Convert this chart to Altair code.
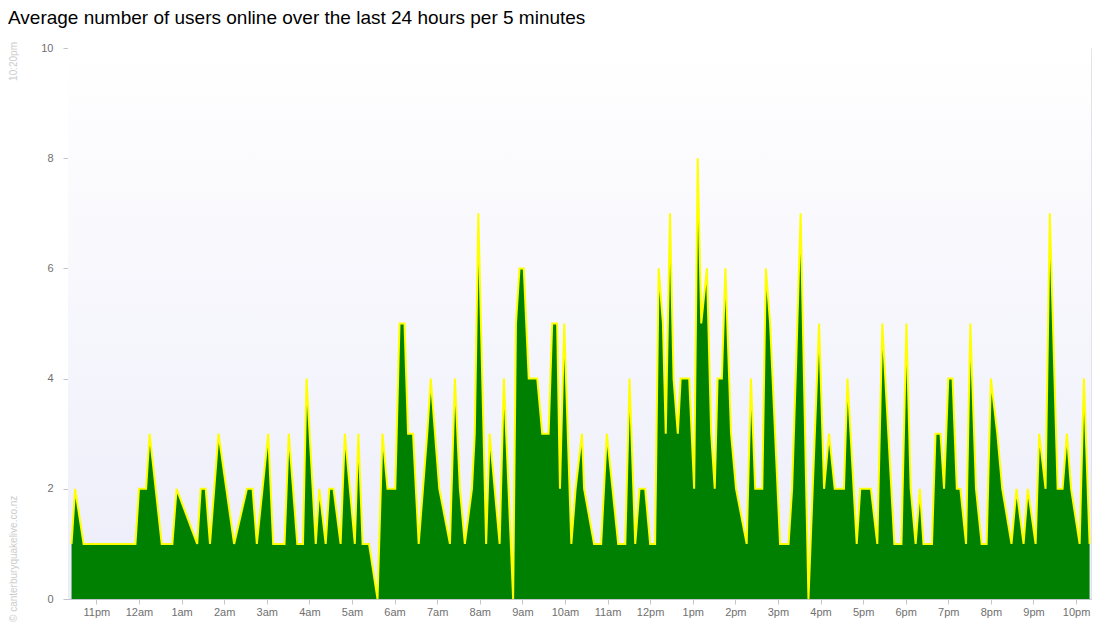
import altair as alt
import pandas as pd

# minutes after 10pm of the previous day (10:20pm = 20 ... 10:20pm = 1460)
minutes = [25, 30, 42, 115, 120, 130, 135, 152, 167, 173,
           202, 207, 214, 220, 226, 232, 254, 272, 280, 286,
           294, 302, 309, 325, 331, 343, 351, 356, 369, 374,
           383, 388, 394, 404, 410, 424, 429, 435, 444, 456,
           463, 470, 481, 487, 494, 499, 506, 514, 520, 526,
           531, 543, 558, 565, 572, 579, 589, 593, 598, 609,
           614, 628, 634, 647, 651, 656, 662, 669, 681, 688,
           697, 702, 709, 713, 719, 729, 735, 744, 747, 761,
           771, 779, 795, 805, 811, 819, 825, 833, 840, 847,
           852, 858, 862, 868, 873, 879, 883, 895, 902, 907,
           912, 920, 926, 931, 935, 941, 946, 954, 961, 976,
           982, 988, 998, 1003, 1009, 1023, 1035, 1040, 1045, 1052,
           1063, 1078, 1085, 1092, 1100, 1113, 1118, 1131, 1136, 1151,
           1160, 1167, 1184, 1194, 1201, 1207, 1214, 1220, 1225, 1237,
           1242, 1249, 1254, 1260, 1266, 1272, 1277, 1285, 1291, 1299,
           1307, 1314, 1320, 1329, 1336, 1349, 1356, 1366, 1372, 1383,
           1388, 1397, 1403, 1414, 1421, 1427, 1433, 1445, 1451, 1459]
users = [1, 2, 1, 1, 2, 2, 3, 1, 1, 2,
         1, 2, 2, 1, 2, 3, 1, 2, 2, 1,
         2, 3, 1, 1, 3, 1, 1, 4, 1, 2,
         1, 2, 2, 1, 3, 1, 3, 1, 1, 0,
         3, 2, 2, 5, 5, 3, 3, 1, 2, 3,
         4, 2, 1, 4, 2, 1, 2, 3, 7, 1,
         3, 1, 4, 0, 5, 6, 6, 4, 4, 3,
         3, 5, 5, 2, 5, 1, 2, 3, 2, 1,
         1, 3, 1, 1, 4, 1, 2, 2, 1, 1,
         6, 5, 3, 7, 4, 3, 4, 4, 2, 8,
         5, 6, 3, 2, 4, 4, 6, 3, 2, 1,
         4, 2, 2, 6, 5, 1, 1, 2, 4, 7,
         0, 5, 2, 3, 2, 2, 4, 1, 2, 2,
         1, 5, 1, 1, 5, 2, 1, 2, 1, 1,
         3, 3, 2, 4, 4, 2, 2, 1, 5, 2,
         1, 1, 4, 3, 2, 1, 2, 1, 2, 1,
         3, 2, 7, 2, 2, 3, 2, 1, 4, 1]

tick_minutes = [60 * h for h in range(1, 25)]
tick_labels = ["11pm", "12am", "1am", "2am", "3am", "4am", "5am", "6am",
               "7am", "8am", "9am", "10am", "11am", "12pm", "1pm", "2pm",
               "3pm", "4pm", "5pm", "6pm", "7pm", "8pm", "9pm", "10pm"]
y_ticks = [0, 2, 4, 6, 8, 10]

title_text = "Average number of users online over the last 24 hours per 5 minutes"
time_note = "10:20pm"
credit = "\u00a9 canterburyquakelive.co.nz"

W, H = 1023, 551

df = pd.DataFrame({"minute": minutes, "users": users})
one = pd.DataFrame({"k": [0]})

label_expr = "[" + ",".join("'%s'" % l for l in tick_labels) + "][round(datum.value/60)-1]"

x_enc = alt.X("minute:Q",
              scale=alt.Scale(domain=[20, 1461], nice=False, zero=False),
              axis=alt.Axis(values=tick_minutes, labelExpr=label_expr, title=None,
                            grid=False, tickSize=5, labelPadding=2,
                            labelFont="Liberation Sans", labelFontSize=11,
                            labelColor="#707070", domainColor="#c4c4cc",
                            tickColor="#c4c4cc"))
y_enc = alt.Y("users:Q",
              scale=alt.Scale(domain=[0, 10], nice=False),
              axis=alt.Axis(values=y_ticks, title=None, grid=False, tickSize=5,
                            labelPadding=10, labelFont="Liberation Sans",
                            labelFontSize=11, labelColor="#707070",
                            domainColor="#c4c4cc", tickColor="#c4c4cc"))

bg = alt.Chart(one).mark_rect(
    fill=alt.Gradient(gradient="linear",
                      stops=[alt.GradientStop(color="#ffffff", offset=0),
                             alt.GradientStop(color="#ededfa", offset=1)],
                      x1=0, x2=0, y1=0, y2=1)
).encode(x=alt.value(0), x2=alt.value(W), y=alt.value(0), y2=alt.value(H))

area = alt.Chart(df).mark_area(color="#008000", interpolate="linear").encode(x=x_enc, y=y_enc)
line = alt.Chart(df).mark_line(color="#ffff00", strokeWidth=2, interpolate="linear").encode(x=x_enc, y=y_enc)

title = alt.Chart(one).mark_text(align="left", baseline="top", fontSize=19,
                                 font="Liberation Sans", color="#000000",
                                 text=title_text).encode(x=alt.value(-60), y=alt.value(-39))
note = alt.Chart(one).mark_text(angle=270, align="right", baseline="middle",
                                fontSize=10, font="Liberation Sans", color="#cccccc",
                                text=time_note).encode(x=alt.value(-54), y=alt.value(-6))
cred = alt.Chart(one).mark_text(angle=270, align="left", baseline="middle",
                                fontSize=10, font="Liberation Sans", color="#cccccc",
                                text=credit).encode(x=alt.value(-54), y=alt.value(574))

chart = alt.layer(bg, area, line, title, note, cred).properties(
    width=W, height=H,
    autosize="none",
    padding={"left": 60, "top": 40, "right": 1, "bottom": 30},
).configure_view(stroke="#e2e2e8")

chart.save("out.html", embed_options={"renderer": "svg", "actions": False})
